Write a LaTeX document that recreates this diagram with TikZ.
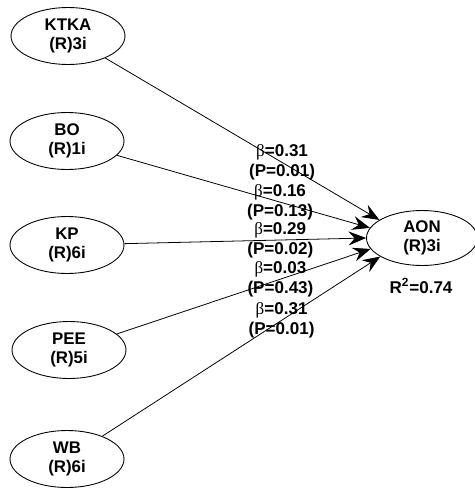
\documentclass[tikz,border=0pt]{standalone}
\usepackage{fontspec}
\setmainfont{Liberation Sans}
\newfontfamily\grk{Liberation Serif}
\usetikzlibrary{shapes.geometric,arrows.meta}

\begin{document}
\begin{tikzpicture}[x=0.02cm,y=-0.02cm,
  lv/.style={draw, ellipse, line width=0.5pt, minimum width=2.28cm, minimum height=1.14cm, inner sep=0pt, align=center, font=\fontsize{9.6}{10.6}\selectfont\bfseries},
  link/.style={draw, line width=0.45pt, -{Stealth[length=10pt,width=8pt,inset=3.5pt]}},
  coef/.style={pos=0.645, align=center, inner sep=0pt, font=\fontsize{9.7}{11.3}\selectfont\bfseries}]
\useasboundingbox (0,0) rectangle (475,488);

\node[lv] (ktka) at (68,36) {KTKA\\(R)3i};
\node[lv] (bo) at (67,141) {BO\\(R)1i};
\node[lv] (kp) at (67,245) {KP\\(R)6i};
\node[lv] (pee) at (69,350) {PEE\\(R)5i};
\node[lv] (wb) at (67,459) {WB\\(R)6i};

\node[lv, minimum width=2.22cm, minimum height=1.1cm] (aon) at (422,238) {AON\\(R)3i};
\node[font=\fontsize{9.7}{11.3}\selectfont\bfseries] (r2) at (421,286) {R\textsuperscript{2}=0.74};

\path[link] (ktka) -- (aon.157) node[coef] (c1) {{\grk\mdseries β}=0.31\\(P=0.01)};
\path[link] (bo) -- (aon.169) node[coef] (c2) {{\grk\mdseries β}=0.16\\(P=0.13)};
\path[link] (kp) -- (aon.180) node[coef] (c3) {{\grk\mdseries β}=0.29\\(P=0.02)};
\path[link] (pee) -- (aon.192) node[coef] (c4) {{\grk\mdseries β}=0.03\\(P=0.43)};
\path[link] (wb) -- (aon.204) node[coef] (c5) {{\grk\mdseries β}=0.31\\(P=0.01)};
\end{tikzpicture}
\end{document}
